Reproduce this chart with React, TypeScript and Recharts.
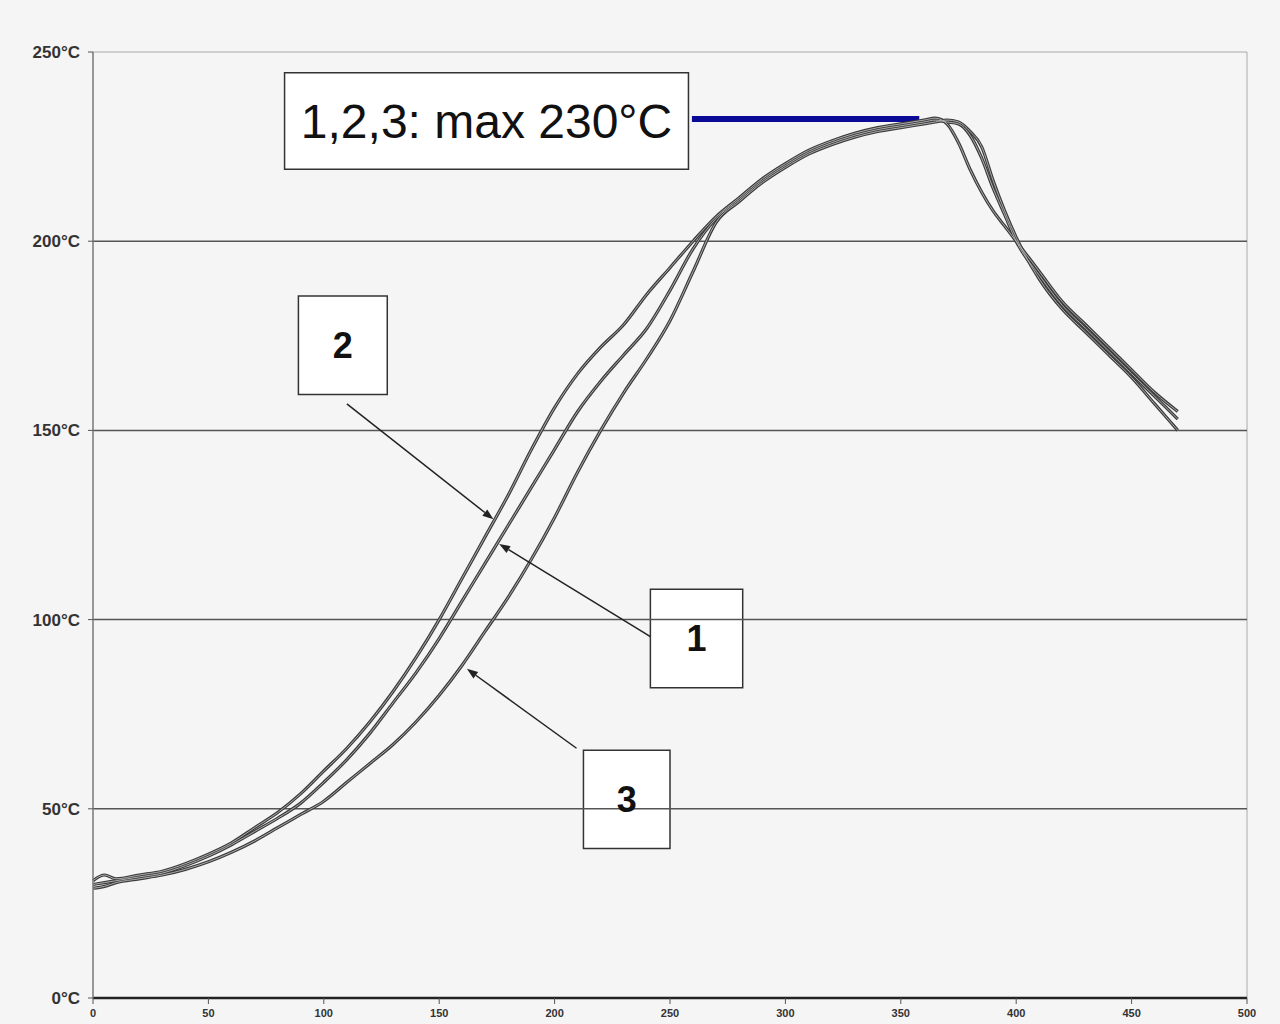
import { useLayoutEffect } from 'react';
import { LineChart, Line, XAxis, YAxis, ReferenceLine, ReferenceArea } from 'recharts';

// time in seconds, shared by all three runs
const time = [
    0, 5, 10, 20, 30, 40, 50, 60, 70, 80, 90, 100, 110, 120, 130, 140, 150, 160, 170, 180,
    190, 200, 210, 220, 230, 240, 250, 260, 270, 280, 290, 300, 310, 320, 330, 340, 350, 360,
    365, 370, 375, 380, 385, 390, 395, 400, 410, 420, 430, 440, 450, 460, 470,
];

const run1 = [
    30, 30.5, 31, 32, 33, 35, 37.5, 40.5, 44, 47.5, 51.5, 57, 63, 70, 78, 86, 95, 105, 115, 125,
    135, 145, 155, 163, 170, 177, 187, 198, 206, 211, 216, 220, 223.5, 226, 228, 229.5, 230.5, 231.5,
    232, 231.5, 231, 228, 222, 214, 207, 200, 191, 183, 177, 171, 165, 159, 153,
];

const run2 = [
    31, 32.5, 31.5, 32.5, 33.5, 35.5, 38, 41, 45, 49, 54, 60, 66, 73, 81, 90, 100, 111, 122, 133,
    145, 156, 165, 172, 178, 186, 193, 200, 206.5, 211.5, 216.5, 220.5, 224, 226.5, 228.5, 230, 231, 232,
    232.5, 231, 226, 219, 213, 208, 204, 200, 192, 184, 178, 172, 166, 160, 155,
];

const run3 = [
    29, 29.5, 30.5, 31.5, 32.5, 34, 36, 38.5, 41.5, 45, 48.5, 52, 57, 62, 67, 73, 80, 88, 97, 106,
    116, 127, 139, 150, 160, 169, 179, 192, 205, 210.5, 215.5, 219.5, 223, 225.5, 227.5, 229, 230, 231,
    231.5, 232, 231.5, 229, 225, 216, 208, 201, 190, 182, 176, 170, 164, 157, 150,
];

const tempTicks = [0, 50, 100, 150, 200, 250];
const minorTempTicks = [10, 20, 30, 40, 60, 70, 80, 90, 110, 120, 130, 140, 160, 170, 180, 190, 210, 220, 230, 240];
const gridTemps = [50, 100, 150, 200];
const timeTicks = [0, 50, 100, 150, 200, 250, 300, 350, 400, 450, 500];

const peakLabel = '1,2,3: max 230°C';
const peakTemp = 232.3;

// callouts: box corners and arrow (from -> to) in chart units
const callouts = [
    { label: '2', x1: 89, x2: 127.5, y1: 159.5, y2: 185.5, from: [110, 157], to: [173.5, 126.5] },
    { label: '1', x1: 241.5, x2: 281.5, y1: 82, y2: 108, from: [241.5, 95.5], to: [176, 120] },
    { label: '3', x1: 212.5, x2: 250, y1: 39.5, y2: 65.5, from: [209.5, 66], to: [162, 87] },
];

const data = time.map((t, i) => ({ t, r1: run1[i], r2: run2[i], r3: run3[i] }));

function Arrow(props: any) {
    const { x1, y1, x2, y2 } = props;
    const ang = Math.atan2(y2 - y1, x2 - x1);
    const len = 11;
    const w = 4;
    const bx = x2 - len * Math.cos(ang);
    const by = y2 - len * Math.sin(ang);
    const px = -Math.sin(ang) * w;
    const py = Math.cos(ang) * w;
    return (
        <g>
            <line x1={x1} y1={y1} x2={bx} y2={by} stroke="#222" strokeWidth={1.5} />
            <polygon points={`${x2},${y2} ${bx + px},${by + py} ${bx - px},${by - py}`} fill="#222" />
        </g>
    );
}

const tickFont = { fill: '#333', fontWeight: 'bold', fontFamily: 'Arial, Liberation Sans' };

export default function App() {
    useLayoutEffect(() => {
        document.body.style.margin = '0';
        document.body.style.background = '#f5f5f5';
    }, []);

    const edge = '#3c3c3c';
    const core = '#b8b8b8';
    const runs = ['r3', 'r2', 'r1'];

    return (
        <div style={{ width: 1280, height: 1024, overflow: 'hidden', background: '#f5f5f5' }}>
            <LineChart
                width={1280}
                height={1024}
                data={data}
                margin={{ top: 52, right: 33, left: 15, bottom: 0 }}
            >
                <XAxis
                    dataKey="t"
                    type="number"
                    domain={[0, 500]}
                    ticks={timeTicks}
                    tickSize={6}
                    tickMargin={5}
                    axisLine={{ stroke: '#222', strokeWidth: 2.5 }}
                    tickLine={{ stroke: '#555' }}
                    tick={{ ...tickFont, fontSize: 11 }}
                    height={26}
                />
                <YAxis
                    type="number"
                    domain={[0, 250]}
                    ticks={tempTicks}
                    tickFormatter={(v) => `${v}°C`}
                    tickSize={5}
                    tickMargin={8}
                    axisLine={{ stroke: '#777', strokeWidth: 1.5 }}
                    tickLine={{ stroke: '#555' }}
                    tick={{ ...tickFont, fontSize: 17 }}
                    width={78}
                />
                <YAxis
                    yAxisId="minor"
                    type="number"
                    domain={[0, 250]}
                    ticks={minorTempTicks}
                    mirror
                    tick={false}
                    tickSize={3}
                    axisLine={false}
                    tickLine={{ stroke: '#888' }}
                    width={0}
                />
                <ReferenceLine y={250} stroke="#aaa" strokeWidth={1} />
                <ReferenceLine x={500} stroke="#aaa" strokeWidth={1} />
                {gridTemps.map((v) => (
                    <ReferenceLine key={v} y={v} stroke="#555" strokeWidth={1.5} />
                ))}

                <ReferenceArea
                    x1={83}
                    x2={258}
                    y1={219}
                    y2={244.5}
                    fill="#fff"
                    fillOpacity={1}
                    stroke="#333"
                    strokeWidth={1.5}
                    label={{ value: peakLabel, position: 'center', fontSize: 48, fill: '#111', fontFamily: 'Arial, Liberation Sans' }}
                />
                <ReferenceLine
                    segment={[{ x: 259.5, y: peakTemp }, { x: 358, y: peakTemp }]}
                    stroke="#0a0a96"
                    strokeWidth={6}
                />

                {callouts.map((c) => (
                    <ReferenceArea
                        key={c.label}
                        x1={c.x1}
                        x2={c.x2}
                        y1={c.y1}
                        y2={c.y2}
                        fill="#fff"
                        fillOpacity={1}
                        stroke="#333"
                        strokeWidth={1.5}
                        label={{ value: c.label, position: 'center', fontSize: 36, fontWeight: 'bold', fill: '#111', fontFamily: 'Arial, Liberation Sans' }}
                    />
                ))}

                {runs.map((k) => (
                    <Line key={`${k}-edge`} type="monotone" dataKey={k} stroke={edge} strokeWidth={3.2} dot={false} isAnimationActive={false} />
                ))}
                {runs.map((k) => (
                    <Line key={`${k}-core`} type="monotone" dataKey={k} stroke={core} strokeWidth={0.9} dot={false} isAnimationActive={false} />
                ))}

                {callouts.map((c) => (
                    <ReferenceLine
                        key={`arrow-${c.label}`}
                        segment={[{ x: c.from[0], y: c.from[1] }, { x: c.to[0], y: c.to[1] }]}
                        shape={<Arrow />}
                    />
                ))}
            </LineChart>
        </div>
    );
}
